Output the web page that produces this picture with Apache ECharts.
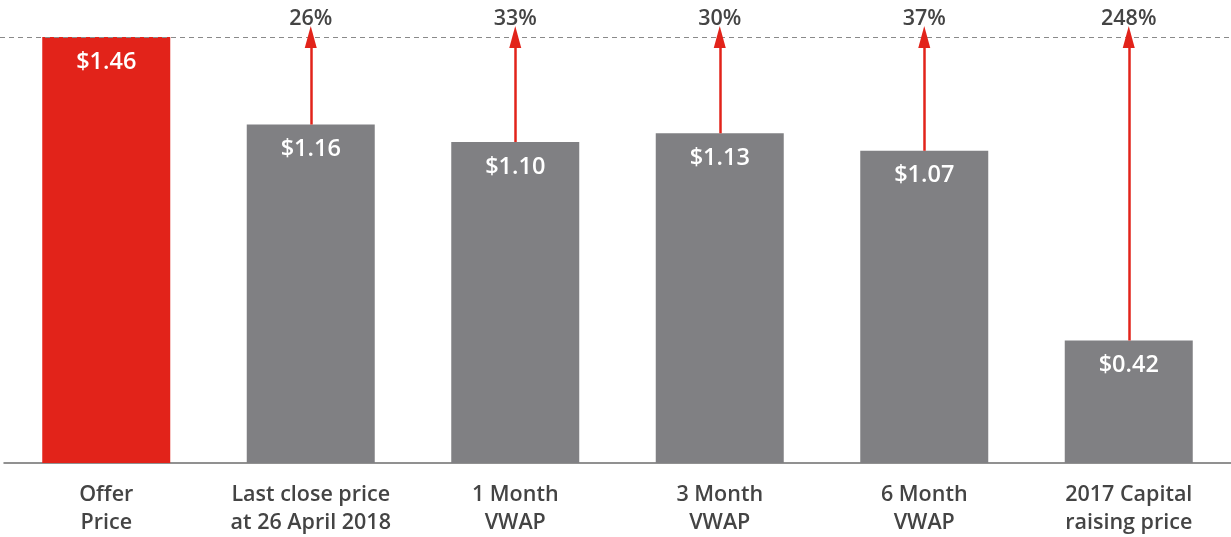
<!DOCTYPE html>
<html>
<head>
<meta charset="utf-8">
<script src="https://cdn.jsdelivr.net/npm/echarts@6/dist/echarts.min.js"></script>
<style>
  html, body { margin: 0; padding: 0; background: #fff; }
  #chart { width: 1231px; height: 537px; }
</style>
</head>
<body>
<div id="chart"></div>
<script>
// categories and values
const categories = ['Offer\nPrice', 'Last close price\nat 26 April 2018', '1 Month\nVWAP', '3 Month\nVWAP', '6 Month\nVWAP', '2017 Capital\nraising price'];
const prices = [1.46, 1.16, 1.10, 1.13, 1.07, 0.42];
const premiums = ['', '26%', '33%', '30%', '37%', '248%'];
const offerPrice = prices[0];

const RED = '#e2231a';
const GREY = '#808083';
const TEXT = '#444444';
const FONT = 'Open Sans';

const chart = echarts.init(document.getElementById('chart'));

// arrows from each bar top up to the offer price line
const arrows = [];
prices.forEach((v, i) => {
    if (i === 0) return;
    arrows.push([
        { coord: [i, v] },
        { coord: [i, offerPrice], label: { formatter: premiums[i] } }
    ]);
});

const option = {
    animation: false,
    grid: { left: 4, top: 37, width: 1230, bottom: 72, containLabel: false },
    xAxis: {
        type: 'category',
        data: categories,
        axisLine: { lineStyle: { color: '#6d6d6d', width: 1.5 } },
        axisTick: { show: false },
        axisLabel: {
            color: TEXT, fontFamily: FONT, fontWeight: 600, fontSize: 21.5,
            lineHeight: 28, margin: 18, interval: 0
        }
    },
    yAxis: {
        type: 'value', min: 0, max: offerPrice, show: false,
        splitLine: { show: false }
    },
    series: [
        {
            type: 'bar',
            barWidth: 128,
            data: prices.map((v, i) => ({ value: v, itemStyle: { color: i === 0 ? RED : GREY } })),
            label: {
                show: true, position: 'insideTop', distance: 13,
                color: '#fff', fontFamily: FONT, fontWeight: 600, fontSize: 23.5,
                formatter: p => '$' + p.value.toFixed(2)
            },
            markLine: {
                silent: true,
                symbol: ['none', 'none'],
                data: [[
                    { x: 0, yAxis: offerPrice },
                    { x: 1231, yAxis: offerPrice }
                ]],
                lineStyle: { color: '#8a8a8a', type: [5, 4], width: 1.2 },
                label: { show: false }
            }
        },
        {
            type: 'line',
            data: [],
            markLine: {
                silent: true,
                symbol: ['none', 'triangle'],
                symbolSize: [12, 22],
                symbolOffset: [-11, 0],
                lineStyle: { color: RED, type: 'solid', width: 2.5 },
                label: {
                    show: true, position: 'end', distance: 7,
                    color: TEXT, fontFamily: FONT, fontWeight: 600, fontSize: 21.5
                },
                data: arrows
            }
        }
    ]
};
chart.setOption(option);
</script>
</body>
</html>
